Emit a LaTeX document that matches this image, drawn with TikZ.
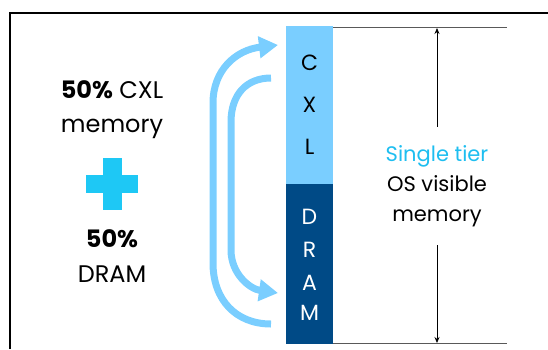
\documentclass[tikz,border=0pt]{standalone}
\usepackage{fontspec}
\setmainfont{Poppins}
\usepackage{tikz}
\usetikzlibrary{arrows.meta,calc,positioning}
\usepackage{xcolor}
\definecolor{cxlblue}{RGB}{122,206,255}
\definecolor{dramblue}{RGB}{0,74,134}
\definecolor{tiercyan}{RGB}{30,190,240}
\definecolor{pluscyan}{RGB}{30,200,245}
\tikzstyle{mem}=[
  x=1pt,y=-1pt,font=\fontsize{24pt}{30pt}\selectfont
]
\tikzstyle{block}=[
  draw=none,rectangle,inner sep=0pt,minimum width=47pt,minimum height=159pt
]
\tikzstyle{letter}=[
  inner sep=0pt,anchor=center,font=\fontsize{22pt}{26pt}\selectfont
]
\tikzstyle{flow}=[
  draw=cxlblue,line width=7pt,-{Triangle[length=19pt,width=21pt]}
]
\tikzstyle{dimline}=[
  line width=0.8pt,-{Stealth[length=6pt,width=5pt]}
]
\tikzstyle{guide}=[
  line width=0.9pt,draw=black!65
]

\begin{document}
\begin{tikzpicture}[mem]
    \useasboundingbox (0,0) rectangle (548,349);
    % frame
    \draw [line width=2pt] (10,349) -- (10,13) -- (548,13);

    % left side text
    \node (pct1) at (112,98) [anchor=base] {\textbf{50\%} CXL};
    \node (mem1) at (112,132) [anchor=base] {memory};
    \fill [pluscyan] (86,175) rectangle (138,193);
    \fill [pluscyan] (103,158) rectangle (122,210);
    \node (pct2) at (112,247) [anchor=base] {\textbf{50\%}};
    \node (dram1) at (112,282) [anchor=base] {DRAM};

    % memory bar
    \node (cxl) at (309.5,105) [block,fill=cxlblue] {};
    \node (dram) at (309.5,264) [block,fill=dramblue,minimum height=160pt] {};
    \foreach \l/\y in {C/63,X/105,L/147}
      \node (cxl\l) at (309.5,\y) [letter] {\l};
    \foreach \l/\y in {D/217,R/250,A/283,M/313}
      \node (dram\l) at (309.5,\y) [letter,text=white] {\l};

    % swap arrows
    \coordinate (outS) at (271,324);
    \coordinate (outE) at (278,45);
    \coordinate (inS) at (271,78);
    \coordinate (inE) at (278,293);
    \draw [flow] (outS) .. controls (236,324) and (213,300) .. (213,263)
      -- (213,103) .. controls (213,70) and (236,50) .. (outE);
    \draw [flow] (inS) .. controls (246,78) and (231,95) .. (231,122)
      -- (231,250) .. controls (231,274) and (250,289) .. (inE);

    % extent of the single tier
    \coordinate (topR) at (507,27);
    \coordinate (botR) at (507,343);
    \draw [guide] (cxl.north east |- topR) -- (topR);
    \draw [guide] (dram.south east |- botR) -- (botR);
    \node (tier) at (437,186) [minimum height=118pt,inner sep=0pt,align=center,
      font=\fontsize{21pt}{30pt}\selectfont]
      {\textcolor{tiercyan}{Single tier}\\OS visible\\memory};
    \draw [dimline] (tier.north) -- (437,28);
    \draw [dimline] (tier.south) -- (437,343);
\end{tikzpicture}
\end{document}
